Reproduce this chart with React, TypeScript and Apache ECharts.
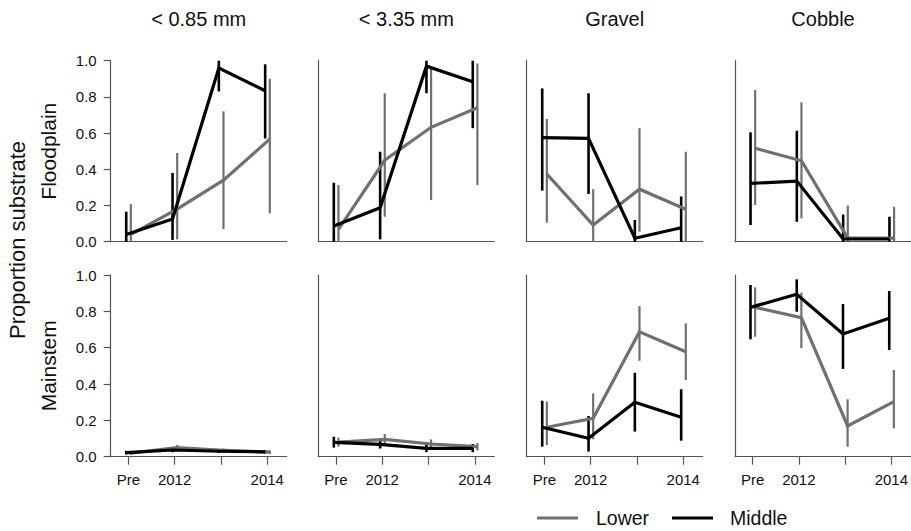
import React, { useEffect, useRef } from "react";
import * as echarts from "echarts";

// ---- categories / labels ----
const columnTitles = ["< 0.85 mm", "< 3.35 mm", "Gravel", "Cobble"];
const rowTitles = ["Floodplain", "Mainstem"];
const periods = ["Pre", "2012", "2013", "2014"];
const xTickLabels = ["Pre", "2012", "", "2014"];
const groups = ["Lower", "Middle"];

// ---- Floodplain (one inner array per substrate column) ----
const fpLowerMean = [
  [0.04, 0.18, 0.34, 0.567],
  [0.068, 0.45, 0.632, 0.74],
  [0.374, 0.092, 0.29, 0.179],
  [0.516, 0.447, 0.02, 0.02],
];
const fpLowerLo = [
  [0.0, 0.013, 0.07, 0.157],
  [0.0, 0.138, 0.23, 0.313],
  [0.105, 0.0, 0.055, 0.0],
  [0.203, 0.129, 0.0, 0.0],
];
const fpLowerHi = [
  [0.207, 0.49, 0.72, 0.9],
  [0.313, 0.82, 0.96, 0.985],
  [0.678, 0.29, 0.627, 0.497],
  [0.838, 0.77, 0.2, 0.193],
];
const fpMiddleMean = [
  [0.04, 0.125, 0.96, 0.834],
  [0.087, 0.188, 0.97, 0.884],
  [0.575, 0.571, 0.019, 0.077],
  [0.322, 0.335, 0.015, 0.015],
];
const fpMiddleLo = [
  [0.0, 0.01, 0.83, 0.57],
  [0.0, 0.013, 0.82, 0.627],
  [0.282, 0.264, 0.0, 0.0],
  [0.092, 0.11, 0.0, 0.0],
];
const fpMiddleHi = [
  [0.166, 0.38, 1.0, 0.98],
  [0.326, 0.497, 1.0, 1.0],
  [0.847, 0.82, 0.12, 0.25],
  [0.604, 0.613, 0.15, 0.138],
];

// ---- Mainstem ----
const msLowerMean = [
  [0.02, 0.05, 0.035, 0.025],
  [0.08, 0.095, 0.07, 0.055],
  [0.162, 0.211, 0.688, 0.578],
  [0.822, 0.765, 0.169, 0.303],
];
const msLowerLo = [
  [0.01, 0.035, 0.025, 0.015],
  [0.055, 0.065, 0.045, 0.035],
  [0.064, 0.096, 0.528, 0.422],
  [0.66, 0.597, 0.055, 0.156],
];
const msLowerHi = [
  [0.03, 0.065, 0.045, 0.035],
  [0.105, 0.125, 0.095, 0.075],
  [0.303, 0.349, 0.829, 0.734],
  [0.932, 0.903, 0.316, 0.477],
];
const msMiddleMean = [
  [0.022, 0.037, 0.03, 0.027],
  [0.079, 0.068, 0.046, 0.046],
  [0.162, 0.101, 0.3, 0.217],
  [0.822, 0.894, 0.675, 0.762],
];
const msMiddleLo = [
  [0.012, 0.025, 0.02, 0.017],
  [0.05, 0.045, 0.025, 0.025],
  [0.055, 0.028, 0.138, 0.088],
  [0.646, 0.798, 0.483, 0.587],
];
const msMiddleHi = [
  [0.032, 0.05, 0.04, 0.037],
  [0.11, 0.09, 0.07, 0.07],
  [0.308, 0.224, 0.462, 0.371],
  [0.945, 0.976, 0.84, 0.912],
];

// ---- styling / layout ----
const FONT = "Liberation Sans, Arial, Helvetica, sans-serif";
const GRAY = "#707070";
const BLACK = "#000000";
const AXIS = "#555555";
const TEXT = "#111111";
const colLeft = [110.7, 318.3, 526.7, 735];
const panelW = 176;
const rowTop = [60.7, 275];
const rowH = [181, 181.7];
const dodge = { Lower: 0.055, Middle: -0.045 };

const data: Record<string, number[][][]> = {
  Lower_mean: [fpLowerMean, msLowerMean],
  Lower_lo: [fpLowerLo, msLowerLo],
  Lower_hi: [fpLowerHi, msLowerHi],
  Middle_mean: [fpMiddleMean, msMiddleMean],
  Middle_lo: [fpMiddleLo, msMiddleLo],
  Middle_hi: [fpMiddleHi, msMiddleHi],
};

function buildOption() {
  const grid: any[] = [];
  const xAxis: any[] = [];
  const yAxis: any[] = [];
  const series: any[] = [];
  const graphic: any[] = [];

  for (let r = 0; r < 2; r++) {
    for (let c = 0; c < 4; c++) {
      const i = r * 4 + c;
      grid.push({ left: colLeft[c], top: rowTop[r], width: panelW, height: rowH[r], containLabel: false });
      const bottom = r === 1;
      xAxis.push({
        type: "value",
        gridIndex: i,
        min: -0.38,
        max: 3.42,
        axisLine: { show: true, onZero: false, lineStyle: { color: AXIS, width: 1.2 } },
        splitLine: { show: false },
        axisTick: {
          show: bottom,
          customValues: [0, 1, 2, 3],
          length: 8,
          lineStyle: { color: AXIS, width: 1.2 },
        },
        axisLabel: {
          show: bottom,
          customValues: [0, 1, 2, 3],
          formatter: (v: number) => xTickLabels[Math.round(v)] ?? "",
          margin: 15,
          fontSize: 15,
          fontFamily: FONT,
          color: TEXT,
        },
      });
      yAxis.push({
        type: "value",
        gridIndex: i,
        min: 0,
        max: 1,
        interval: 0.2,
        axisLine: { show: true, onZero: false, lineStyle: { color: AXIS, width: 1.2 } },
        splitLine: { show: false },
        axisTick: { show: c === 0, length: 7, lineStyle: { color: AXIS, width: 1.2 } },
        axisLabel: {
          show: c === 0,
          formatter: (v: number) => v.toFixed(1),
          margin: 14,
          fontSize: 15,
          fontFamily: FONT,
          color: TEXT,
        },
      });

      for (const g of groups) {
        const color = g === "Lower" ? GRAY : BLACK;
        const off = (dodge as any)[g];
        const mean = data[g + "_mean"][r][c];
        const lo = data[g + "_lo"][r][c];
        const hi = data[g + "_hi"][r][c];
        series.push({
          type: "custom",
          name: g + " error",
          xAxisIndex: i,
          yAxisIndex: i,
          silent: true,
          data: periods.map((_, k) => [k + off, lo[k], hi[k]]),
          encode: { x: 0, y: [1, 2] },
          renderItem: (params: any, api: any) => {
            const x = api.value(0);
            const p1 = api.coord([x, api.value(1)]);
            const p2 = api.coord([x, api.value(2)]);
            return {
              type: "line",
              shape: { x1: p1[0], y1: p1[1], x2: p2[0], y2: p2[1] },
              style: { stroke: color, lineWidth: g === "Lower" ? 2.2 : 2.6, lineCap: "butt" },
            };
          },
        });
        series.push({
          type: "line",
          name: g,
          xAxisIndex: i,
          yAxisIndex: i,
          symbol: "none",
          silent: true,
          data: periods.map((_, k) => [k + off, mean[k]]),
          lineStyle: { color, width: 3.2, cap: "butt", join: "miter" },
        });
      }
    }
  }

  // column titles
  columnTitles.forEach((t, c) => {
    graphic.push({
      type: "text",
      x: colLeft[c] + panelW / 2,
      y: 19,
      style: { text: t, fontSize: 20, fontFamily: FONT, fill: TEXT, textAlign: "center", textVerticalAlign: "middle" },
    });
  });
  // row titles
  rowTitles.forEach((t, r) => {
    graphic.push({
      type: "text",
      x: 48,
      y: rowTop[r] + rowH[r] / 2,
      rotation: Math.PI / 2,
      style: { text: t, fontSize: 21, fontFamily: FONT, fill: TEXT, textAlign: "center", textVerticalAlign: "middle" },
    });
  });
  graphic.push({
    type: "text",
    x: 17,
    y: 240,
    rotation: Math.PI / 2,
    style: { text: "Proportion substrate", fontSize: 22, fontFamily: FONT, fill: TEXT, textAlign: "center", textVerticalAlign: "middle" },
  });
  // legend
  const legendItems = [
    { name: groups[0], color: GRAY, x1: 537, x2: 578, tx: 596 },
    { name: groups[1], color: BLACK, x1: 672, x2: 713, tx: 730 },
  ];
  legendItems.forEach((it) => {
    graphic.push({
      type: "line",
      shape: { x1: it.x1, y1: 518, x2: it.x2, y2: 518 },
      style: { stroke: it.color, lineWidth: 3.2 },
    });
    graphic.push({
      type: "text",
      x: it.tx,
      y: 518,
      style: { text: it.name, fontSize: 19.5, fontFamily: FONT, fill: TEXT, textAlign: "left", textVerticalAlign: "middle" },
    });
  });

  return {
    animation: false,
    backgroundColor: "#ffffff",
    grid,
    xAxis,
    yAxis,
    series,
    graphic,
  };
}

export default function App() {
  const ref = useRef<HTMLDivElement>(null);
  useEffect(() => {
    document.body.style.margin = "0";
    if (!ref.current) return;
    const chart = echarts.init(ref.current, undefined, { renderer: "svg" });
    chart.setOption(buildOption() as any);
    return () => chart.dispose();
  }, []);
  return <div ref={ref} style={{ width: 911, height: 531 }} />;
}
